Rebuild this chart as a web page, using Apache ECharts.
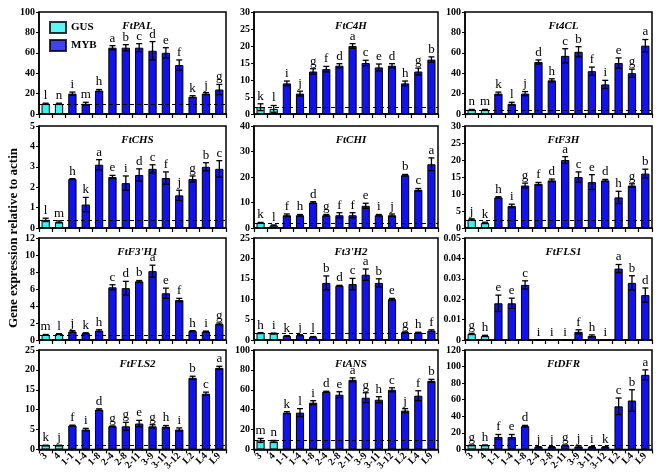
<!DOCTYPE html>
<html><head><meta charset="utf-8">
<script src="https://cdn.jsdelivr.net/npm/echarts@6/dist/echarts.min.js"></script>
<style>html,body{margin:0;padding:0;background:#fff}#c{width:666px;height:473px}</style>
</head><body><div id="c"></div>
<script>
const categories = ['3','4','1-1','1-4','1-8','2-4','2-8','2-11','3-9','3-11','3-12','L2','L4','L9'];
const groupNames = ['GUS','MYB'];
const gusCount = 2;

const geneNames = ['FtPAL','FtC4H','Ft4CL','FtCHS','FtCHI','FtF3H',"FtF3'H1","Ft3'H2",'FtFLS1','FtFLS2','FtANS','FtDFR'];
const yMax = [100,30,100,5,40,30,12,25,0.05,25,100,120];
const yInterval = [20,5,20,1,10,5,2,5,0.01,5,20,20];
const dashLevel = [10,2,4,0.38,2,2.3,0.6,1.7,0.003,1,9,5];

const palValues = [10,10,20,10,23,65,65,65,62,60,48,17,20,24];
const palErrors = [0.6,0.6,1.5,1.5,1,2,3,4,9,5,5,1,1,5];
const palLetters = ['l','n','i','m','h','a','b','c','d','e','f','k','j','g'];

const c4hValues = [2,1.5,9,6,12.5,13.2,14.2,20,15,13.7,14.2,9,12.5,16];
const c4hErrors = [1,1,0.7,0.7,0.8,0.8,0.6,0.7,0.8,1,0.6,0.7,1,0.8];
const c4hLetters = ['k','l','i','j','g','f','d','a','c','e','d','h','g','b'];

const cl4Values = [4,4,20,10,20,51,33,57,61,42,29,50,40,67];
const cl4Errors = [0.5,0.5,1.5,1.5,2,2,1.5,7,5,4,4,5,4,6];
const cl4Letters = ['n','m','k','l','j','d','h','c','b','f','i','e','g','a'];

const chsValues = [0.4,0.3,2.4,1.15,3.1,2.5,2.2,2.6,2.9,2.45,1.6,2.4,3.0,2.9];
const chsErrors = [0.08,0.05,0.02,0.35,0.25,0.08,0.35,0.3,0.2,0.3,0.25,0.15,0.2,0.4];
const chsLetters = ['l','m','h','k','a','e','i','d','c','f','j','g','b','c'];

const chiValues = [2,1,5,5,10,5,5,5,8.7,5,5,20.7,15,25];
const chiErrors = [0.2,0.2,0.5,0.3,0.3,0.3,1,1,1,0.3,0.5,0.3,0.5,2.5];
const chiLetters = ['k','l','f','h','d','g','f','f','e','i','j','b','c','a'];

const f3hValues = [2.5,1.5,9,6.5,12.5,13,14,20,15,13.5,14,9,12.5,16];
const f3hErrors = [0.2,0.2,0.2,0.5,0.7,0.4,0.4,1,1.5,2.2,0.3,1.8,0.5,1.3];
const f3hLetters = ['j','k','h','i','g','f','d','a','c','e','d','h','g','b'];

const f3h1Values = [0.6,0.7,1.0,0.8,1.1,6.2,6.1,6.9,8.1,5.5,4.7,1.05,1.0,1.9];
const f3h1Errors = [0.05,0.05,0.1,0.05,0.1,0.3,0.8,0.1,0.7,0.6,0.2,0.05,0.05,0.1];
const f3h1Letters = ['m','l','j','k','h','c','d','b','a','e','f','h','i','g'];

const h2Values = [1.7,1.6,1.0,1.2,0.8,14,13.3,13.7,16,14,10,1.9,1.8,2.3];
const h2Errors = [0.1,0.1,0.05,0.1,0.05,1.7,0.1,1.4,1.4,1,0.2,0.1,0.1,0.2];
const h2Letters = ['h','i','k','j','l','b','d','c','a','b','e','g','h','f'];

const fls1Values = [0.003,0.002,0.018,0.018,0.027,0,0,0,0.004,0.002,0,0.035,0.028,0.022];
const fls1Errors = [0.0003,0.0003,0.004,0.0025,0.002,0,0,0,0.001,0.0005,0,0.002,0.0035,0.0035];
const fls1Letters = ['g','h','e','e','c','i','i','i','f','h','i','a','b','d'];

const fls2Values = [1,1,6,5,10,5.8,5.8,6.5,5.8,5.7,5,18,14,20.5];
const fls2Errors = [0.05,0.05,0.1,0.3,0.2,0.1,1,0.8,0.4,0.3,0.4,0.4,0.4,0.4];
const fls2Letters = ['k','j','f','i','d','g','g','e','g','h','i','b','c','a'];

const ansValues = [9,8,37,37,47,58,55,70,52,50,60,39,54,69];
const ansErrors = [2,1,1,4,2,0.5,3,2,5,3,2,2,5,1.5];
const ansLetters = ['m','n','k','l','i','d','e','a','g','h','c','j','f','b'];

const dfrValues = [5,5,15,15,28,3,3,5,3.5,3,3,52,59,90];
const dfrErrors = [0.3,0.3,3,3,1,0.3,0.3,0.3,1,0.3,0.3,10,13,6];
const dfrLetters = ['g','h','f','e','d','j','j','g','j','i','k','c','b','a'];

const allValues = [palValues,c4hValues,cl4Values,chsValues,chiValues,f3hValues,f3h1Values,h2Values,fls1Values,fls2Values,ansValues,dfrValues];
const allErrors = [palErrors,c4hErrors,cl4Errors,chsErrors,chiErrors,f3hErrors,f3h1Errors,h2Errors,fls1Errors,fls2Errors,ansErrors,dfrErrors];
const allLetters = [palLetters,c4hLetters,cl4Letters,chsLetters,chiLetters,f3hLetters,f3h1Letters,h2Letters,fls1Letters,fls2Letters,ansLetters,dfrLetters];

const FONT = 'Liberation Serif';
const CYAN = '#38f2f2';
const BLUE = '#1212ee';
const cols = [{left:39,width:187},{left:254,width:184},{left:465,width:187}];
const rows = [{top:12,height:102},{top:126,height:102},{top:238,height:102},{top:350,height:103}];

const grids=[], xAxes=[], yAxes=[], series=[], titles=[];
for (let i=0;i<12;i++){
  const r=Math.floor(i/3), c=i%3;
  grids.push({left:cols[c].left, top:rows[r].top, width:cols[c].width, height:rows[r].height,
    show:true, borderColor:'#000', borderWidth:1.5, backgroundColor:'transparent', containLabel:false});
  xAxes.push({type:'category', gridIndex:i, data:categories,
    axisLine:{lineStyle:{color:'#000',width:1.5}},
    axisTick:{show:true, alignWithLabel:false, length:4, lineStyle:{color:'#000',width:1.2}},
    axisLabel:{show:r===3, rotate:45, color:'#000', fontFamily:FONT, fontWeight:'bold', fontSize:10, margin:5, interval:0}});
  yAxes.push({type:'value', gridIndex:i, min:0, max:yMax[i], interval:yInterval[i],
    axisLine:{show:true,lineStyle:{color:'#000',width:1.5}},
    axisTick:{show:true,length:3,lineStyle:{color:'#000'}},
    splitLine:{show:false},
    axisLabel:{color:'#000', fontFamily:FONT, fontWeight:'bold', fontSize:10, margin:4}});
  titles.push({text:geneNames[i], left:cols[c].left+cols[c].width/2, top:rows[r].top+4, textAlign:'center',
    textStyle:{fontFamily:FONT, fontStyle:'italic', fontWeight:'bold', fontSize:11, color:'#000'}});
  const vals=allValues[i], errs=allErrors[i], lets=allLetters[i];
  series.push({type:'bar', xAxisIndex:i, yAxisIndex:i, barWidth:'62%',
    data: vals.map((v,k)=>({value:v, itemStyle:{color: k<gusCount?CYAN:BLUE}})),
    itemStyle:{borderColor:'#000', borderWidth:1},
    markLine:{silent:true, symbol:'none', label:{show:false},
      lineStyle:{type:[4,3], color:'#000', width:1.2}, data:[{yAxis:dashLevel[i]}]},
    z:2});
  series.push({type:'custom', xAxisIndex:i, yAxisIndex:i, z:5,
    data: vals.map((v,k)=>[k, v, errs[k]]),
    renderItem:(params, api)=>{
      const k=api.value(0), v=api.value(1), e=api.value(2);
      const top=api.coord([k, v+e]);
      const bot=api.coord([k, Math.max(0,v-e)]);
      const cap=3;
      const children=[];
      if (e>0){
        children.push({type:'line', shape:{x1:top[0],y1:top[1],x2:bot[0],y2:bot[1]}, style:{stroke:'#000',lineWidth:1.3}});
        children.push({type:'line', shape:{x1:top[0]-cap,y1:top[1],x2:top[0]+cap,y2:top[1]}, style:{stroke:'#000',lineWidth:1.3}});
        children.push({type:'line', shape:{x1:bot[0]-cap,y1:bot[1],x2:bot[0]+cap,y2:bot[1]}, style:{stroke:'#000',lineWidth:1.3}});
      }
      children.push({type:'text', style:{text:lets[params.dataIndex], x:top[0], y:top[1]-1,
        textAlign:'center', textVerticalAlign:'bottom', fontFamily:FONT, fontSize:13, fill:'#000'}});
      return {type:'group', children};
    }});
}
// legend helper series
series.push({type:'scatter', name:'GUS', xAxisIndex:0, yAxisIndex:0, data:[], itemStyle:{color:CYAN,borderColor:'#000',borderWidth:1}});
series.push({type:'scatter', name:'MYB', xAxisIndex:0, yAxisIndex:0, data:[], itemStyle:{color:BLUE,borderColor:'#000',borderWidth:1}});

const chart = echarts.init(document.getElementById('c'), null, {renderer:'canvas'});
chart.setOption({
  animation:false,
  backgroundColor:'#fff',
  title:titles,
  grid:grids, xAxis:xAxes, yAxis:yAxes, series,
  legend:{data:groupNames.map(n=>({name:n, icon:'rect'})), orient:'vertical', left:44, top:16, itemWidth:16, itemHeight:11, itemGap:5,
    textStyle:{fontFamily:FONT, fontWeight:'bold', fontSize:11, color:'#000'}},
  graphic:[{type:'text', x:14, y:238, rotation:Math.PI/2,
    style:{text:'Gene expression relative to actin', textAlign:'center', textVerticalAlign:'middle',
      fontFamily:FONT, fontWeight:'bold', fontSize:13, fill:'#000'}}]
});
</script></body></html>
